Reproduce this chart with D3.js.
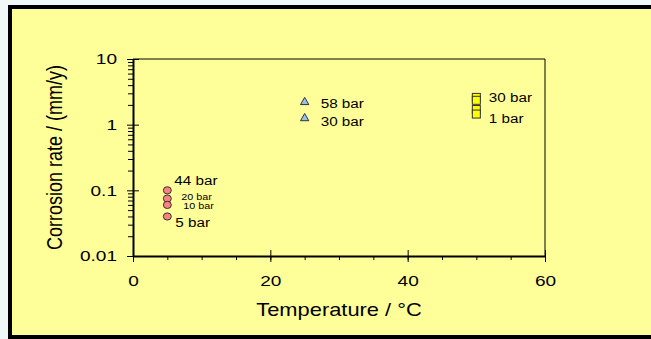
<!DOCTYPE html>
<html>
<head>
<meta charset="utf-8">
<script src="https://cdn.jsdelivr.net/npm/d3@7"></script>
<style>
  body { margin: 0; background: #f0f8f8; }
  text { font-family: "Liberation Sans", Arial, sans-serif; fill: #000; }
</style>
</head>
<body>
<div id="chart"></div>
<script>
// data
var xTicks = [0, 20, 40, 60];
var yTicks = [0.01, 0.1, 1, 10];
var yTickLabels = ["0.01", "0.1", "1", "10"];

var circleTemp = [5, 5, 5, 5];
var circleRate = [0.1, 0.075, 0.06, 0.04];
var circleLabels = ["44 bar", "20 bar", "10 bar", "5 bar"];

var triTemp = [25, 25];
var triRate = [2.2, 1.25];
var triLabels = ["58 bar", "30 bar"];

var squareTemp = [50, 50, 50, 50];
var squareRate = [2.6, 2.35, 1.7, 1.45];
var squareLabels = ["30 bar", "1 bar"];

var width = 651, height = 339;
var margin = {left: 133, right: 106, top: 59, bottom: 83};
var wide = 1.27; // the original text is drawn a bit wider than normal

var svg = d3.select("#chart")
  .append("svg")
    .attr("width", width)
    .attr("height", height);

// stretch text horizontally to match the original
function stretch(sel, k) {
  sel.each(function() {
    var w = this.getComputedTextLength();
    d3.select(this)
      .attr("textLength", w * k)
      .attr("lengthAdjust", "spacingAndGlyphs");
  });
}

// yellow panel with thick black frame (runs off the right/bottom edge)
svg.append("rect")
  .attr("x", 10)
  .attr("y", 7)
  .attr("width", 660)
  .attr("height", 330)
  .attr("fill", "#ffff99")
  .attr("stroke", "#000")
  .attr("stroke-width", 4);

var x = d3.scaleLinear()
  .domain([0, 60])
  .range([margin.left, width - margin.right]);

var y = d3.scaleLog()
  .domain([0.01, 10])
  .range([height - margin.bottom, margin.top]);

// plot frame (top and right)
svg.append("path")
  .attr("d", "M" + x(0) + "," + y(10) + "H" + x(60) + "V" + y(0.01))
  .attr("fill", "none")
  .attr("stroke", "#000")
  .attr("stroke-width", 1);

// x axis: minor ticks every 5, major every 20
var xMinor = d3.range(0, 61, 5);
svg.append("g")
    .attr("transform", "translate(0," + y(0.01) + ")")
    .call(d3.axisBottom(x).tickValues(xMinor).tickSize(4).tickFormat(""))
    .call(function(g) { g.select(".domain").remove(); });

var xAxis = svg.append("g")
    .attr("transform", "translate(0," + y(0.01) + ")")
    .call(d3.axisBottom(x).tickValues(xTicks).tickSize(6).tickSizeOuter(0).tickPadding(13));
xAxis.selectAll(".tick line").attr("y1", -6);
xAxis.select(".domain").attr("stroke-width", 2);
xAxis.selectAll("text").style("font-size", "15px").call(stretch, wide);

// y axis: log minor ticks outside, major ticks crossing
var yMinor = [];
[0.01, 0.1, 1].forEach(function(d) {
  for (var i = 2; i <= 9; i++) yMinor.push(d * i);
});
svg.append("g")
    .attr("transform", "translate(" + x(0) + ",0)")
    .call(d3.axisLeft(y).tickValues(yMinor).tickSize(5).tickFormat(""))
    .call(function(g) { g.select(".domain").remove(); });

var yAxis = svg.append("g")
    .attr("transform", "translate(" + x(0) + ",0)")
    .call(d3.axisLeft(y).tickValues(yTicks).tickSize(6).tickSizeOuter(0)
      .tickFormat(function(d, i) { return yTickLabels[i]; }));
yAxis.selectAll(".tick line").attr("x1", 6);
yAxis.select(".domain").attr("stroke-width", 2);
// right-aligned labels: scale around the anchor point instead of textLength
yAxis.selectAll("text")
  .style("font-size", "15px")
  .attr("x", 0)
  .attr("transform", "translate(-16,0) scale(" + wide + ",1)");

// axis titles
svg.append("text")
  .attr("x", (x(0) + x(60)) / 2)
  .attr("y", 316)
  .attr("text-anchor", "middle")
  .style("font-size", "19px")
  .text("Temperature / °C")
  .call(stretch, 1.15);

svg.append("text")
  .attr("transform", "translate(62," + (y(0.01) + y(10)) / 2 + ") scale(1.2,1) rotate(-90)")
  .attr("text-anchor", "middle")
  .style("font-size", "18px")
  .text("Corrosion rate / (mm/y)");

// circles at 5 °C
svg.append("g").selectAll("ellipse")
  .data(circleRate)
  .enter()
  .append("ellipse")
    .attr("cx", function(d, i) { return x(circleTemp[i]); })
    .attr("cy", function(d) { return y(d); })
    .attr("rx", 4)
    .attr("ry", 3.6)
    .attr("fill", "#ff8080")
    .attr("stroke", "#333")
    .attr("stroke-width", 1);

var circleLabelPos = [
  {dx: 7, dy: -5, size: 12},
  {dx: 14, dy: 1.5, size: 8.5},
  {dx: 16, dy: 4, size: 8.5},
  {dx: 8, dy: 11, size: 12}
];
svg.append("g").selectAll("text")
  .data(circleLabels)
  .enter()
  .append("text")
    .attr("x", function(d, i) { return x(circleTemp[i]) + circleLabelPos[i].dx; })
    .attr("y", function(d, i) { return y(circleRate[i]) + circleLabelPos[i].dy; })
    .style("font-size", function(d, i) { return circleLabelPos[i].size + "px"; })
    .text(function(d) { return d; })
    .call(stretch, wide);

// triangles at 25 °C
var tri = d3.symbol().type(d3.symbolTriangle).size(30);
svg.append("g").selectAll("path")
  .data(triRate)
  .enter()
  .append("path")
    .attr("transform", function(d, i) { return "translate(" + x(triTemp[i]) + "," + y(d) + ")"; })
    .attr("d", tri)
    .attr("fill", "#99c0ee")
    .attr("stroke", "#333")
    .attr("stroke-width", 1);

svg.append("g").selectAll("text")
  .data(triLabels)
  .enter()
  .append("text")
    .attr("x", function(d, i) { return x(triTemp[i]) + 16; })
    .attr("y", function(d, i) { return y(triRate[i]) + (i == 0 ? 6 : 7.7); })
    .style("font-size", "12px")
    .text(function(d) { return d; })
    .call(stretch, wide);

// squares at 50 °C
svg.append("g").selectAll("rect")
  .data(squareRate)
  .enter()
  .append("rect")
    .attr("x", function(d, i) { return x(squareTemp[i]) - 4; })
    .attr("y", function(d) { return y(d) - 4; })
    .attr("width", 8)
    .attr("height", 8)
    .attr("fill", "#ffff00")
    .attr("stroke", "#333")
    .attr("stroke-width", 1);

svg.append("g").selectAll("text")
  .data(squareLabels)
  .enter()
  .append("text")
    .attr("x", x(50) + 12.5)
    .attr("y", function(d, i) { return y(squareRate[i * 3]) + (i == 0 ? 4.6 : 9.2); })
    .style("font-size", "12px")
    .text(function(d) { return d; })
    .call(stretch, wide);
</script>
</body>
</html>
